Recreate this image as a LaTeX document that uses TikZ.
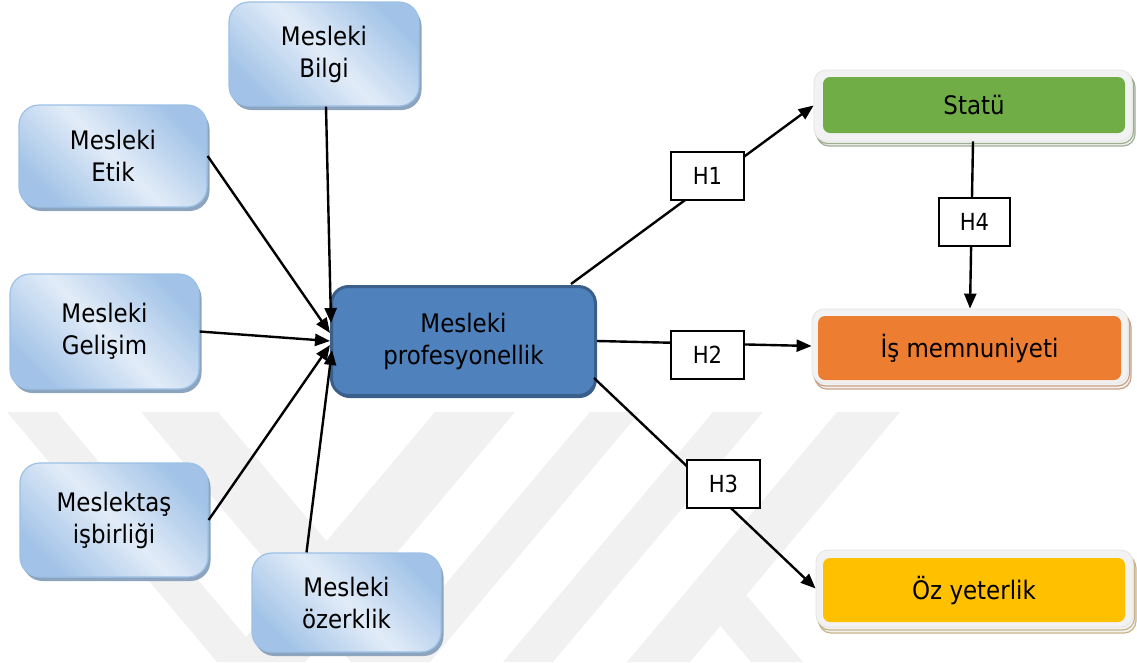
\documentclass[tikz,border=0pt]{standalone}
\usepackage{fontspec}
\setmainfont{DejaVu Sans Condensed}
\usetikzlibrary{arrows.meta,shadows,calc}

\definecolor{bluelt}{HTML}{E2ECF8}
\definecolor{bluedk}{HTML}{A2C3E7}
\definecolor{bluebd}{HTML}{9CC0E6}
\definecolor{blueshd}{HTML}{8DA4BE}
\definecolor{mainfill}{HTML}{4F81BD}
\definecolor{mainbd}{HTML}{3A5F8B}
\definecolor{framefill}{HTML}{F2F2F2}
\definecolor{framebd}{HTML}{E4E4E4}
\definecolor{greenfill}{HTML}{70AD47}
\definecolor{greenshd}{HTML}{9DAE92}
\definecolor{orangefill}{HTML}{ED7D31}
\definecolor{orangeshd}{HTML}{C9A184}
\definecolor{goldfill}{HTML}{FFC000}
\definecolor{goldshd}{HTML}{C8B488}
\definecolor{wmark}{HTML}{F1F1F1}

\tikzset{
  labeltext/.style={font=\fontsize{25.5}{32}\selectfont, align=center, text=black},
  srcbox/.style={labeltext, rounded corners=20pt, draw=bluebd, line width=1.2pt,
    top color=bluedk, bottom color=bluedk, middle color=bluelt, shading angle=-45,
    drop shadow={shadow xshift=2.5pt, shadow yshift=-4pt, fill=blueshd, opacity=1}},
  mainbox/.style={labeltext, rounded corners=17pt, draw=mainbd, line width=3pt, fill=mainfill,
    minimum width=264pt, minimum height=109pt,
    drop shadow={shadow xshift=1pt, shadow yshift=-2.5pt, fill=mainbd, opacity=1}},
  outframe/.style={rounded corners=12pt, fill=framefill, draw=framebd, line width=0.8pt},
  inbox/.style={labeltext, rounded corners=7pt, minimum width=302pt},
  hbox/.style={draw=black, line width=2pt, fill=white, minimum width=73pt, minimum height=48pt,
    font=\fontsize{23.5}{28}\selectfont, inner sep=0pt},
  conn/.style={line width=2.4pt, draw=black},
  arr/.style={conn, -{Triangle[length=15pt,width=12pt]}},
}

\begin{document}
\begin{tikzpicture}[x=1pt, y=-1pt]
\useasboundingbox (0,0) rectangle (1137,662);

% faint background chevrons
\fill[wmark] (7,412) -- (57,412) -- (267,662) -- (217,662) -- cycle;
\fill[wmark] (141,412) -- (218,412) -- (428,662) -- (351,662) -- cycle;
\fill[wmark] (435,412) -- (515,412) -- (305,662) -- (225,662) -- cycle;
\fill[wmark] (590,412) -- (640,412) -- (430,662) -- (380,662) -- cycle;
\fill[wmark] (713,412) -- (763,412) -- (553,662) -- (503,662) -- cycle;
\fill[wmark] (837,412) -- (900,412) -- (690,662) -- (627,662) -- cycle;
\fill[wmark] (690,590) -- (742,590) -- (803,662) -- (751,662) -- cycle;

% input constructs
\node[srcbox, minimum width=190pt, minimum height=104pt] (bilgi) at (324,54) {Mesleki\\Bilgi};
\node[srcbox, minimum width=188pt, minimum height=102pt] (etik) at (113,156) {Mesleki\\Etik};
\node[srcbox, minimum width=189pt, minimum height=115pt] (gelisim) at (104.5,331.5) {Mesleki\\Gelişim};
\node[srcbox, minimum width=188pt, minimum height=114pt] (isbirligi) at (114,520) {Meslektaş\\işbirliği};
\node[srcbox, minimum width=189pt, minimum height=99pt] (ozerklik) at (346.5,602.5) {Mesleki\\özerklik};

% central construct
\node[mainbox] (mp) at (463.5,341) {Mesleki\\profesyonellik};

% outcome constructs
\node[outframe, minimum width=318pt, minimum height=71pt,
  double copy shadow={shadow xshift=1.5pt, shadow yshift=-2.5pt, fill=framefill, draw=greenshd, line width=1.2pt}]
  (statf) at (973,105.5) {};
\node[inbox, fill=greenfill, minimum height=56pt] (statu) at (974,105) {Statü};

\node[outframe, minimum width=316pt, minimum height=74pt,
  double copy shadow={shadow xshift=1.5pt, shadow yshift=-3pt, fill=framefill, draw=orangeshd, line width=1.2pt}]
  (isf) at (970,346) {};
\node[inbox, fill=orangefill, minimum width=303pt, minimum height=64pt] (memnun) at (969.5,348) {İş memnuniyeti};

\node[outframe, minimum width=317pt, minimum height=77pt,
  double copy shadow={shadow xshift=1.5pt, shadow yshift=-3pt, fill=framefill, draw=goldshd, line width=1.2pt}]
  (ozf) at (974.5,588.5) {};
\node[inbox, fill=goldfill, minimum height=64pt] (yeterlik) at (974,590) {Öz yeterlik};

% paths into the central construct
\draw[arr] ($(bilgi.south)+(2,0)$) -- ($(mp.west)+(1,-18)$);
\draw[arr] (etik.east) -- ($(mp.west)+(0,-8)$);
\draw[arr] (gelisim.east) -- (mp.west);
\draw[arr] (isbirligi.east) -- ($(mp.west)+(0,4)$);
\draw[arr] ($(ozerklik.north)+(-40,0)$) -- ($(mp.west)+(2,9)$);

% hypothesised paths
\draw[arr] ($(mp.north east)+(-26,-1)$) -- (statf.west);
\draw[arr] (mp.east) -- (isf.west);
\draw[arr] ($(mp.east)+(-3,37)$) -- (ozf.west);
\draw[arr] (statf.south) -- (isf.north);

% hypothesis labels
\node[hbox] (h1) at (707.5,175.5) {H1};
\node[hbox] (h2) at (707.5,355) {H2};
\node[hbox] (h3) at (723.5,484) {H3};
\node[hbox, minimum width=71pt] (h4) at (974.5,222) {H4};
\end{tikzpicture}
\end{document}
